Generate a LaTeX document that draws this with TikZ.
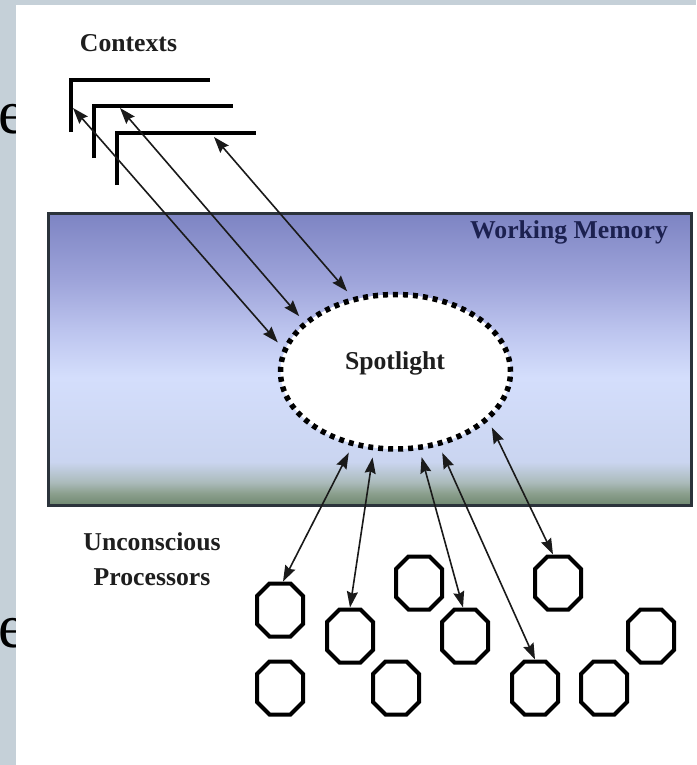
\documentclass[tikz,border=0pt]{standalone}
\usepackage{fontspec}
\setmainfont{Liberation Serif}
\usetikzlibrary{arrows.meta,calc,shapes.geometric}
\definecolor{frame}{HTML}{C5D0D8}
\definecolor{txt}{HTML}{1E1E1E}
\definecolor{wmtxt}{HTML}{1C2150}
\definecolor{wmborder}{HTML}{2B333B}
\definecolor{arrowc}{HTML}{1A1A1A}
\definecolor{wm0}{HTML}{6F8870}
\definecolor{wm1}{HTML}{8A9E8C}
\definecolor{wm2}{HTML}{ABBBBB}
\definecolor{wm3}{HTML}{CAD5F0}
\definecolor{wm4}{HTML}{D4DEFC}
\definecolor{wm5}{HTML}{BCC4EE}
\definecolor{wm6}{HTML}{9EA4DA}
\definecolor{wm7}{HTML}{7D84C3}
\pgfdeclareverticalshading{wmshade}{100bp}{color(0bp)=(wm0); color(25bp)=(wm0); color(27bp)=(wm1); color(29bp)=(wm2); color(32.5bp)=(wm3); color(47bp)=(wm4); color(55bp)=(wm5); color(63.5bp)=(wm6); color(75bp)=(wm7); color(100bp)=(wm7)}
\begin{document}
\begin{tikzpicture}[x=1pt,y=-1pt,
  lbl/.style={font=\fontsize{25.7}{35}\selectfont\bfseries, text=txt, inner sep=0pt},
  ctx/.style={minimum width=139pt, minimum height=52pt, inner sep=0pt, outer sep=0pt, anchor=north west},
  ctxline/.style={line width=3.5pt, draw=black, line join=miter},
  oct/.style={minimum width=46pt, minimum height=53pt, inner sep=0pt, outer sep=2pt},
  octline/.style={line width=4pt, draw=black, line join=miter},
  wmbox/.style={shading=wmshade, draw=wmborder, line width=3pt, minimum width=643pt, minimum height=292pt, inner sep=0pt, anchor=north west},
  spot/.style={ellipse, minimum width=230pt, minimum height=154.5pt, fill=white, draw=black, line width=5.5pt, dash pattern=on 5pt off 5pt, outer sep=10pt, inner sep=0pt},
  link/.style={line width=1.6pt, draw=arrowc, {Stealth[length=16pt,width=11pt,inset=2pt]}-{Stealth[length=16pt,width=11pt,inset=2pt]}},
  ]
\useasboundingbox (0,0) rectangle (696,765);
\fill[frame] (0,0) rectangle (696,765);
\begin{scope}
  \clip (0,0) rectangle (16,765);
  \node[anchor=base west, inner sep=0pt, font=\fontsize{62}{62}\selectfont] (e1) at (-2,134) {e};
  \node[anchor=base west, inner sep=0pt, font=\fontsize{62}{62}\selectfont] (e2) at (-2,647) {e};
\end{scope}
\fill[white] (16,5) rectangle (696,765);

% working memory
\node[wmbox] (wm) at (47,212) {};
\node[lbl, text=wmtxt, anchor=base] (wmlabel) at (569,238) {Working Memory};

% spotlight
\node[spot] (sp) at (395.5,371.75) {};
\node[lbl, anchor=base] (splabel) at (395,369) {Spotlight};

% contexts
\node[lbl, anchor=base] (ctxlabel) at (128.5,52) {Contexts};
\node[ctx] (c1) at (71,80) {};
\node[ctx] (c2) at (94,106) {};
\node[ctx] (c3) at (117,133) {};
\foreach \c in {c1,c2,c3}
  \draw[ctxline] (\c.south west) -- (\c.north west) -- (\c.north east);

% unconscious processors
\node[lbl, align=center, anchor=base] (uplabel) at (152,585) {Unconscious\\Processors};
\foreach \n/\px/\py in {o1/280/610, o2/350/636, o3/419/583, o4/465/636, o5/558/583, o6/651/636, o7/280/688, o8/396/688, o9/535/688, o10/604/688} {
  \node[oct] (\n) at (\px,\py) {};
  \draw[octline, shift={(\n.center)}] (-10.5,-26.5) -- (10.5,-26.5) -- (23,-14) -- (23,14) -- (10.5,26.5) -- (-10.5,26.5) -- (-23,14) -- (-23,-14) -- cycle;
}

% connectors
\draw[link] ($(c1.north west)+(2,28)$) -- (sp.166);
\draw[link] ($(c2.north west)+(26,2)$) -- (sp.150);
\draw[link] ($(c3.north west)+(97,4)$) -- (sp.121);
\draw[link] (sp.240) -- ($(o1.north)+(3,0)$);
\draw[link] (sp.255) -- (o2.north);
\draw[link] (sp.287) -- ($(o4.north)+(-2,0)$);
\draw[link] (sp.300) -- (o9.north);
\draw[link] (sp.330) -- ($(o5.north)+(-5,0)$);
\end{tikzpicture}
\end{document}
